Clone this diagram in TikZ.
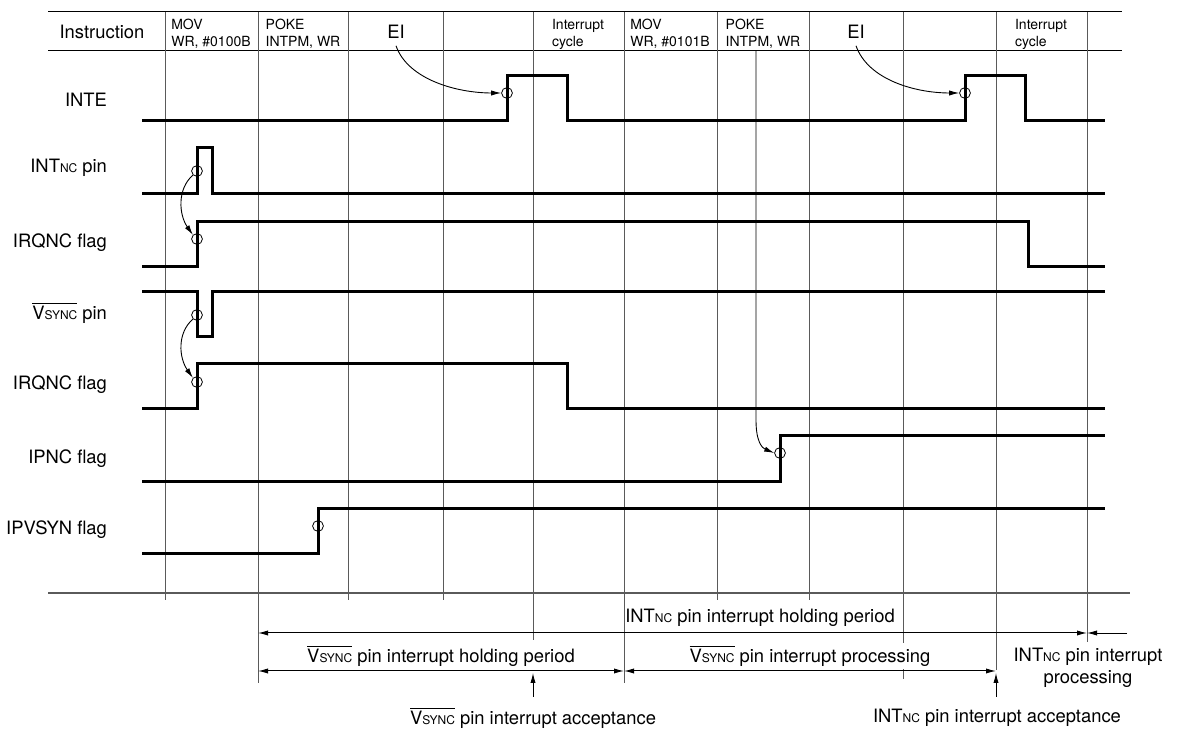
\documentclass[tikz,border=0pt]{standalone}
\usepackage{fontspec}
\setmainfont{TeX Gyre Heros}
\usepackage{tikz}
\usetikzlibrary{arrows.meta}
\definecolor{GridGray}{HTML}{5A5A5A}
\newcommand{\subNC}{{\fontsize{6}{6}\selectfont NC}}
\newcommand{\IntNC}{INT\subNC}
\newcommand{\VsyncBar}{$\overline{\mbox{V{\fontsize{6}{6}\selectfont SYNC}}}$}

\begin{document}
\begin{tikzpicture}[x=0.5pt, y=-0.5pt, font=\fontsize{9.2}{11}\selectfont,
  wave/.style={line width=1.5pt, line join=miter},
  gridline/.style={GridGray, line width=0.5pt},
  hitmark/.style={circle, draw, line width=0.4pt, inner sep=0pt, minimum size=5.4pt},
  hint/.style={-{Latex[length=5pt,width=2.6pt]}, line width=0.45pt},
  span/.style={{Latex[length=5pt,width=2.6pt]}-{Latex[length=5pt,width=2.6pt]}, line width=0.5pt},
  cmdtext/.style={font=\fontsize{7}{8.5}\selectfont, align=left}]
  \useasboundingbox (0,0) rectangle (1180,731);

  \draw[line width=0.5pt] (48,12) -- (1122,12);
  \draw[line width=0.5pt] (48,51) -- (1122,51);
  \foreach \x/\yend in {165/600, 258/683, 348/600, 443/600, 533/640, 624/683,
                        717/600, 809/600, 903/679, 996/670, 1087/642}
    \draw[gridline] (\x,12) -- (\x,\yend);
  \draw[GridGray, line width=0.6pt] (48,593) -- (1130,593);

  \node (instr) at (102,32) {Instruction};
  \foreach \x/\txt/\name in {211/{MOV\\WR, \#0100B}/mova, 303/{POKE\\ INTPM, WR}/pokea,
                             578/{Interrupt\\cycle}/irqa, 670/{MOV\\WR, \#0101B}/movb,
                             763/{POKE\\ INTPM, WR}/pokeb, 1041/{Interrupt\\cycle}/irqb}
    \node[cmdtext] (\name) at (\x,34) {\txt};
  \node (eia) at (396,32) {EI};
  \node (eib) at (856,32) {EI};

  \foreach \y/\txt/\name in {100/INTE/inte, 168/{\IntNC\ pin}/ncpinlbl,
                             243/IRQNC flag/ncflaglbl, 313/{\VsyncBar\ pin}/vspinlbl,
                             385/IRQNC flag/vsflaglbl, 459/IPNC flag/ipnclbl,
                             530/IPVSYN flag/ipvsynlbl}
    \node[anchor=east] (\name) at (114,\y) {\txt};

  \draw[wave] (142,121) -| (507,76) -| (567,121) -| (965,76) -| (1025,121) -- (1105,121);
  \draw[wave] (142,194) -| (197,148) -| (212,194) -- (1105,194);
  \draw[wave] (142,267) -| (197,222) -| (1028,267) -- (1105,267);
  \draw[wave] (142,292) -| (197,337) -| (212,292) -- (1105,292);
  \draw[wave] (142,409) -| (197,364) -| (567,409) -- (1105,409);
  \draw[wave] (142,482) -| (780,436) -- (1105,436);
  \draw[wave] (142,554) -| (318,509) -- (1105,509);

  \node[hitmark] (eiamark) at (507,93) {};
  \node[hitmark] (eibmark) at (965,93) {};
  \node[hitmark] (ncpin) at (197,171) {};
  \node[hitmark] (ncflag) at (197,239) {};
  \node[hitmark] (vspin) at (197,315) {};
  \node[hitmark] (vsflag) at (197,382) {};
  \node[hitmark] (ipnc) at (780,453) {};
  \node[hitmark] (ipvsyn) at (318,526) {};

  \draw[hint] (eia.south) .. controls +(12,34) and +(-44,0) .. (eiamark.west);
  \draw[hint] (eib.south) .. controls +(12,34) and +(-44,0) .. (eibmark.west);
  \draw[hint] (ncpin.south west) .. controls +(-16,14) and +(-14,-20) .. (ncflag.north west);
  \draw[hint] (vspin.south west) .. controls +(-16,14) and +(-14,-20) .. (vsflag.north west);
  \coordinate (pokedrop) at (756,51);
  \draw[hint] (pokedrop) -- ++(0,369) .. controls +(0,22) and +(-12,-5) .. (ipnc.west);

  \coordinate (ncholdL) at (258,633);
  \coordinate (ncholdR) at (1087,633);
  \coordinate (ncholdX) at (1127,633);
  \coordinate (vsholdL) at (258,671);
  \coordinate (vsholdR) at (624,671);
  \coordinate (vsprocR) at (996,671);
  \draw[span] (ncholdL) -- (ncholdR);
  \draw[hint] (ncholdX) -- (ncholdR);
  \draw[span] (vsholdL) -- (vsholdR);
  \draw[span] (vsholdR) -- (vsprocR);

  \node (nchold) at (760,618) {\IntNC\ pin interrupt holding period};
  \node[fill=white, inner sep=1pt] (vshold) at (441,656) {\VsyncBar\ pin interrupt holding period};
  \node[fill=white, inner sep=1pt] (vsproc) at (810,656) {\VsyncBar\ pin interrupt processing};
  \node[align=center] (ncproc) at (1088,668) {\IntNC\ pin interrupt\\processing};
  \node (vsacc) at (533,718) {\VsyncBar\ pin interrupt acceptance};
  \node (ncacc) at (997,718) {\IntNC\ pin interrupt acceptance};
  \coordinate (vsok) at (533,673);
  \coordinate (ncok) at (996,673);
  \draw[hint] (vsok |- 0,697) -- (vsok);
  \draw[hint] (ncok |- 0,697) -- (ncok);
\end{tikzpicture}
\end{document}
